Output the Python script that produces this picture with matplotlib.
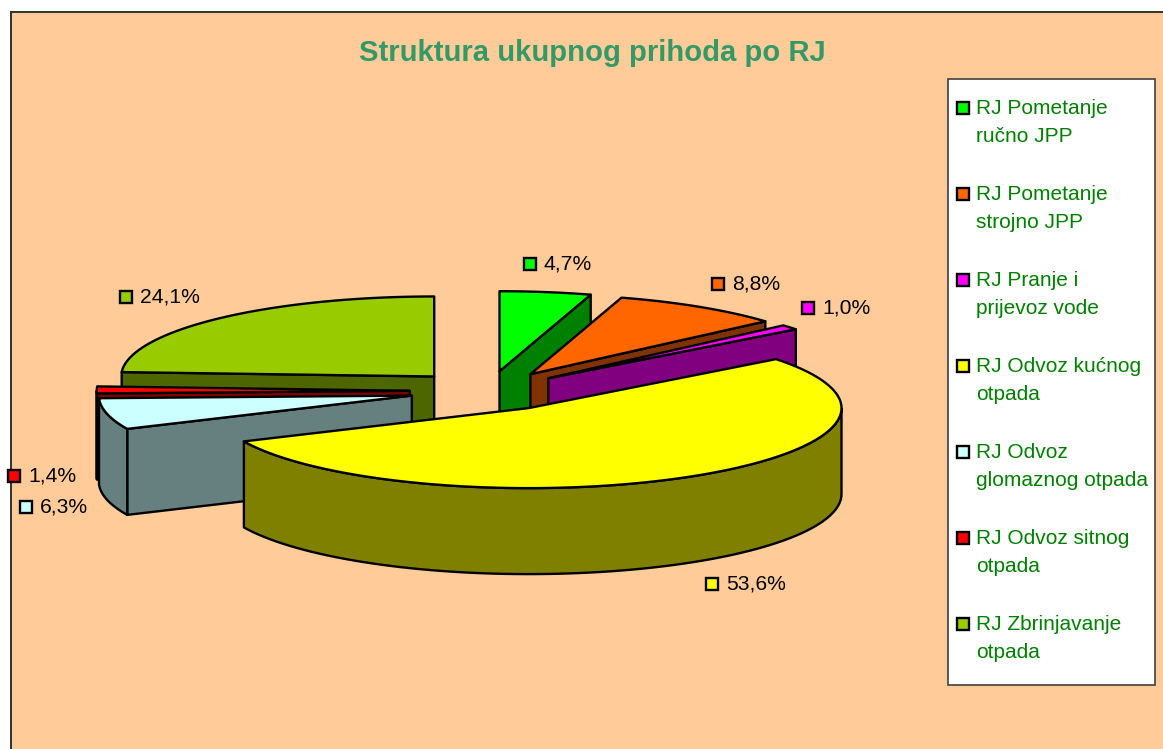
import matplotlib
matplotlib.use('Agg')
import matplotlib.pyplot as plt
from matplotlib.patches import Polygon, Rectangle
import numpy as np

plt.rcParams['font.family'] = ['Liberation Sans', 'DejaVu Sans']

# data
title = 'Struktura ukupnog prihoda po RJ'
names = ['RJ Pometanje\nručno JPP', 'RJ Pometanje\nstrojno JPP', 'RJ Pranje i\nprijevoz vode',
         'RJ Odvoz kućnog\notpada', 'RJ Odvoz\nglomaznog otpada', 'RJ Odvoz sitnog\notpada',
         'RJ Zbrinjavanje\notpada']
shares = [4.7, 8.8, 1.0, 53.6, 6.3, 1.4, 24.1]
top_colors = ['#00FF00', '#FF6600', '#FF00FF', '#FFFF00', '#CCFFFF', '#FF0000', '#99CC00']
side_colors = ['#008000', '#803300', '#800080', '#808000', '#668080', '#800000', '#4D6600']

# where the data labels sit (marker left edge, centre y), in pixels
label_pos = [(524, 264), (712, 284), (802, 308), (706, 584), (20, 507), (8, 476), (120, 297)]

# pie geometry in pixels
cx, cy = 488, 391
rx, ry = 313, 80
depth = 86
explode = 0.25
lw = 1.7

fig = plt.figure(figsize=(11.63, 7.49), dpi=100, facecolor='white')
ax = fig.add_axes([0, 0, 1, 1])
ax.set_xlim(0, 1163)
ax.set_ylim(749, 0)
ax.axis('off')

# chart area
ax.add_patch(Rectangle((10.5, 11.5), 1170, 760, fc='#FFCC99', ec='#303030', lw=1.4))


def rim(x0, y0, a):
    return x0 + rx * np.sin(a), y0 - ry * np.cos(a)


def poly(pts, color, z):
    ax.add_patch(Polygon(pts, closed=True, fc=color, ec='black', lw=lw, joinstyle='round', zorder=z))


edges = np.radians(np.cumsum([0] + shares) / sum(shares) * 360)

# back slices first, yellow one last
order = [6, 0, 1, 2, 5, 4, 3]
for z, i in enumerate(order):
    a1, a2 = edges[i], edges[i + 1]
    mid = (a1 + a2) / 2
    x0 = cx + explode * rx * np.sin(mid)
    y0 = cy - explode * ry * np.cos(mid)
    base = 2 + z * 3

    # radial walls that face the viewer
    if np.sin(a1) < 0:
        x, y = rim(x0, y0, a1)
        poly([(x0, y0), (x, y), (x, y + depth), (x0, y0 + depth)], side_colors[i], base)
    if np.sin(a2) > 0:
        x, y = rim(x0, y0, a2)
        poly([(x0, y0), (x, y), (x, y + depth), (x0, y0 + depth)], side_colors[i], base)

    # outer side, only the front half of the ellipse
    lo, hi = max(a1, np.pi / 2), min(a2, 3 * np.pi / 2)
    if hi > lo:
        t = np.linspace(lo, hi, 80)
        x, y = rim(x0, y0, t)
        pts = list(zip(x, y)) + list(zip(x[::-1], y[::-1] + depth))
        poly(pts, side_colors[i], base + 1)

    # top face
    t = np.linspace(a1, a2, 120)
    x, y = rim(x0, y0, t)
    poly([(x0, y0)] + list(zip(x, y)), top_colors[i], base + 2)

ax.text(592, 53, title, color='#339966', fontsize=21.1, fontweight='bold', ha='center', va='center', zorder=40)

# data labels
for i, (x, y) in enumerate(label_pos):
    ax.add_patch(Rectangle((x, y - 6), 12, 12, fc=top_colors[i], ec='black', lw=lw, zorder=40))
    ax.text(x + 20, y, f'{shares[i]:.1f}%'.replace('.', ','), color='black', fontsize=15.2,
            ha='left', va='center', zorder=40)

# legend
ax.add_patch(Rectangle((948, 79), 207, 606, fc='white', ec='#404040', lw=1.2, zorder=40))
for i, name in enumerate(names):
    y = 108 + i * 86
    ax.add_patch(Rectangle((957, y - 6), 12, 12, fc=top_colors[i], ec='black', lw=lw, zorder=41))
    first, second = name.split('\n')
    ax.text(976, y, first, color='#008000', fontsize=15, ha='left', va='center', zorder=41)
    ax.text(976, y + 28, second, color='#008000', fontsize=15, ha='left', va='center', zorder=41)

plt.savefig('out.png', dpi=100)
